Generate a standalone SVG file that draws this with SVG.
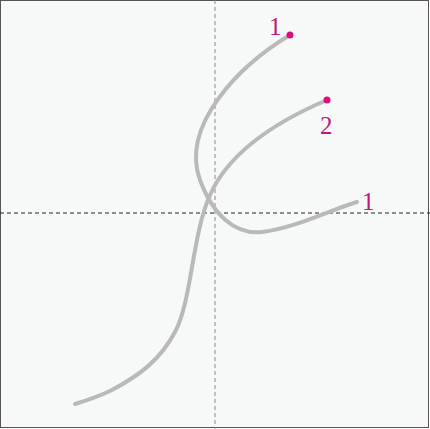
<svg xmlns="http://www.w3.org/2000/svg" width="430" height="429" viewBox="0 0 430 429">
<style>
.curve{fill:none;stroke:#b9b9b9;stroke-width:4;stroke-linecap:round}
.lbl{font-family:"Liberation Serif",serif;font-size:25px;fill:#c0187a}
.dot{fill:#d4107e}
</style>
<rect x="0.5" y="0.5" width="428" height="427" fill="#f7f9f8" stroke="#555" stroke-width="1"/>
<g id="axes">
<line x1="215" y1="0" x2="215" y2="429" stroke="#888" stroke-width="1" stroke-dasharray="4,3"/>
<line x1="0" y1="213" x2="430" y2="213" stroke="#222" stroke-width="1" stroke-dasharray="4,3"/>
</g>
<g id="connectors">
<path id="curve1" class="curve" d="M290,35 C240,65 180,125 200,180 C213,215 235,235 262,232 C295,228 330,210 357,202"/>
<path id="curve2" class="curve" d="M327,100 C280,120 230,150 210,195 C192,235 192,300 175,332 C160,360 140,375 112,390 C100,396 88,400 75,404"/>
</g>
<g id="p1"><circle class="dot" cx="290" cy="35" r="3.5"/><text class="lbl" x="269" y="35">1</text></g>
<g id="p2"><circle class="dot" cx="327" cy="100" r="3.5"/><text class="lbl" x="320" y="134">2</text></g>
<g id="p3"><text class="lbl" x="362" y="210">1</text></g>
</svg>
